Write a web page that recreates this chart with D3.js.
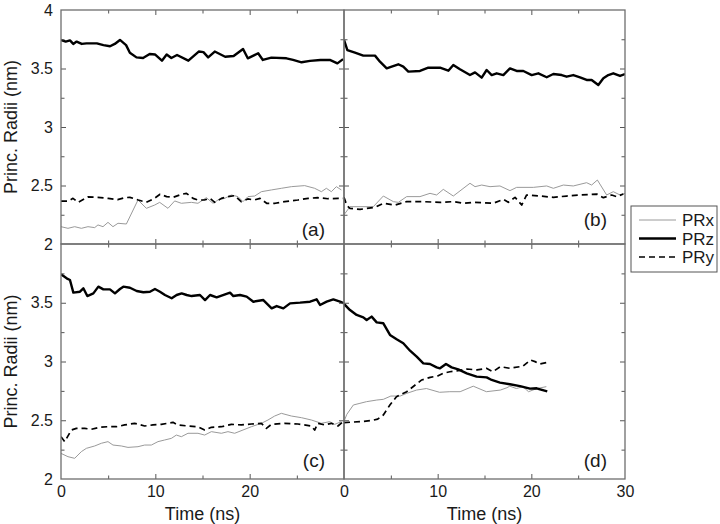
<!DOCTYPE html>
<html><head><meta charset="utf-8">
<script src="https://cdn.jsdelivr.net/npm/d3@7"></script>
<style>
body{margin:0;background:#fff;}
svg text{font-family:"Liberation Sans",Arial,sans-serif;fill:#1a1a1a;}
</style></head>
<body><svg id="c" width="720" height="524"></svg>
<script>
// ---- data: [time (ns), radius (nm)] ----
const aPRz=[[0,3.744],[0.5,3.73],[0.95,3.74],[1.3,3.71],[1.66,3.73],[2.2,3.71],[2.7,3.715],[3.8,3.715],[4.5,3.70],[5.2,3.69],[5.7,3.71],[6.25,3.744],[6.9,3.70],[7.3,3.635],[8.0,3.595],[8.7,3.59],[9.4,3.624],[9.96,3.62],[10.7,3.567],[11.2,3.62],[11.7,3.59],[12.3,3.615],[13.5,3.567],[14.6,3.645],[15.1,3.64],[15.6,3.595],[16.3,3.645],[17.4,3.60],[18.3,3.607],[19.3,3.667],[19.8,3.587],[20.9,3.63],[21.4,3.573],[22.3,3.593],[23.9,3.587],[24.6,3.573],[25.5,3.553],[26.4,3.565],[27.5,3.573],[28.5,3.573],[29.3,3.544],[29.9,3.58]];
const aPRx=[[0,2.148],[0.74,2.134],[1.45,2.148],[2.16,2.134],[2.86,2.148],[3.57,2.14],[3.92,2.163],[4.45,2.148],[4.98,2.185],[5.51,2.148],[6.04,2.177],[6.93,2.171],[8.16,2.376],[9.05,2.305],[9.93,2.333],[10.46,2.356],[11.34,2.305],[12.05,2.368],[12.76,2.348],[13.82,2.356],[14.52,2.348],[15.41,2.396],[16.11,2.348],[16.64,2.376],[17.35,2.39],[18.06,2.419],[18.76,2.405],[19.29,2.362],[19.82,2.405],[20.53,2.41],[21.24,2.447],[22.3,2.462],[23.36,2.476],[24.42,2.49],[25.83,2.499],[26.89,2.476],[27.6,2.447],[28.13,2.476],[28.66,2.447],[29.19,2.49],[29.72,2.462]];
const aPRy=[[0,2.367],[0.74,2.367],[1.27,2.39],[1.8,2.356],[2.86,2.402],[3.9,2.399],[5.0,2.39],[6.0,2.379],[6.75,2.396],[7.3,2.399],[8.2,2.376],[9.05,2.356],[9.9,2.39],[10.5,2.425],[11.2,2.405],[11.9,2.399],[12.8,2.425],[13.3,2.433],[14.0,2.39],[14.5,2.376],[15.2,2.376],[15.8,2.39],[16.3,2.356],[17.0,2.39],[17.7,2.405],[18.4,2.413],[19.1,2.362],[19.8,2.385],[20.5,2.376],[21.1,2.39],[21.8,2.348],[22.7,2.348],[23.7,2.362],[25.1,2.376],[26.2,2.39],[27.2,2.396],[28.3,2.387],[29.4,2.39],[29.9,2.39]];

const bPRz=[[0,3.744],[0.36,3.658],[1.17,3.635],[2.06,3.61],[3.31,3.61],[3.84,3.558],[4.56,3.501],[5.09,3.516],[5.8,3.536],[6.33,3.516],[6.87,3.473],[8.11,3.479],[9.0,3.507],[10.25,3.507],[11.14,3.481],[11.67,3.53],[12.38,3.493],[13.45,3.444],[13.99,3.467],[14.7,3.422],[15.23,3.487],[15.77,3.444],[16.3,3.459],[17.01,3.444],[17.72,3.501],[18.43,3.479],[19.15,3.479],[20.04,3.444],[20.75,3.459],[21.64,3.425],[22.35,3.453],[23.24,3.444],[23.77,3.43],[24.48,3.444],[25.2,3.425],[25.9,3.402],[26.44,3.402],[27.15,3.359],[27.69,3.416],[28.22,3.444],[28.75,3.459],[29.47,3.436],[30,3.453]];
const bPRx=[[0,2.25],[0.64,2.319],[1.71,2.319],[3.13,2.319],[4.2,2.41],[5.27,2.362],[5.8,2.356],[6.69,2.405],[8.11,2.405],[9.18,2.433],[9.89,2.419],[10.6,2.467],[11.67,2.41],[13.45,2.519],[13.99,2.49],[14.7,2.504],[15.59,2.49],[16.65,2.496],[17.72,2.456],[18.43,2.484],[20.21,2.484],[21.64,2.496],[22.35,2.476],[23.42,2.504],[24.48,2.496],[25.9,2.524],[26.44,2.504],[27.05,2.547],[28.04,2.419],[28.75,2.447],[29.47,2.419],[30,2.433]];
const bPRy=[[0,2.40],[0.3,2.33],[0.64,2.305],[1.71,2.296],[3.31,2.313],[4.2,2.348],[5.44,2.333],[6.69,2.362],[8.47,2.362],[10.25,2.356],[11.67,2.362],[12.74,2.348],[13.81,2.356],[14.88,2.353],[15.94,2.348],[17.01,2.382],[17.54,2.356],[18.26,2.399],[18.97,2.333],[19.5,2.419],[20.93,2.41],[22.35,2.399],[23.77,2.41],[25.2,2.419],[26.98,2.427],[27.69,2.396],[28.58,2.419],[29.11,2.405],[29.82,2.427]];

const cPRz=[[0,3.742],[0.6,3.708],[0.95,3.694],[1.31,3.586],[2.01,3.594],[2.37,3.623],[2.79,3.557],[3.43,3.58],[3.96,3.637],[4.49,3.614],[5.19,3.614],[5.72,3.58],[6.25,3.617],[6.61,3.637],[7.31,3.628],[8.02,3.6],[8.73,3.589],[9.43,3.594],[9.96,3.617],[10.49,3.594],[11.02,3.566],[11.73,3.538],[12.26,3.566],[12.79,3.58],[13.32,3.566],[13.85,3.557],[14.73,3.566],[15.27,3.523],[15.8,3.566],[16.5,3.546],[17.92,3.586],[18.27,3.557],[18.98,3.566],[19.68,3.552],[20.39,3.509],[21.45,3.523],[22.33,3.452],[22.86,3.472],[23.57,3.452],[24.28,3.495],[25.34,3.501],[26.4,3.509],[27.1,3.529],[27.46,3.481],[28.16,3.509],[28.87,3.529],[29.58,3.509],[30,3.495]];
const cPRx=[[0,2.218],[0.74,2.19],[1.45,2.176],[2.16,2.233],[2.69,2.261],[3.57,2.281],[4.28,2.304],[4.98,2.318],[5.51,2.289],[6.4,2.281],[7.1,2.269],[8.16,2.275],[8.87,2.289],[9.58,2.289],[10.28,2.318],[10.99,2.332],[11.7,2.346],[12.23,2.374],[12.76,2.36],[13.46,2.389],[14.52,2.389],[15.23,2.374],[15.94,2.403],[17.0,2.389],[17.7,2.403],[18.41,2.389],[19.29,2.417],[20.18,2.445],[21.24,2.474],[21.94,2.502],[22.65,2.536],[23.36,2.559],[24.42,2.536],[25.48,2.522],[26.54,2.502],[27.6,2.474],[28.48,2.488],[29.01,2.465],[29.72,2.488]];
const cPRy=[[0,2.36],[0.39,2.318],[1.1,2.417],[1.63,2.431],[2.51,2.431],[3.22,2.423],[4.1,2.44],[4.98,2.445],[5.87,2.445],[6.75,2.46],[7.81,2.474],[8.87,2.451],[9.75,2.46],[10.64,2.465],[11.87,2.482],[12.4,2.46],[13.46,2.451],[14.52,2.445],[15.23,2.417],[15.94,2.44],[17.0,2.445],[18.06,2.465],[19.12,2.46],[20.18,2.468],[21.24,2.474],[21.77,2.431],[22.3,2.465],[23.71,2.474],[25.12,2.468],[26.54,2.451],[26.89,2.417],[27.24,2.474],[27.95,2.46],[28.66,2.474],[29.36,2.451],[29.89,2.488]];

const dPRz=[[0,3.49],[0.64,3.438],[1.35,3.396],[2.06,3.376],[2.42,3.353],[2.95,3.382],[3.49,3.333],[4.2,3.325],[4.91,3.226],[5.62,3.189],[6.33,3.155],[7.05,3.092],[7.76,3.041],[8.47,2.984],[9.18,2.979],[9.89,2.95],[10.25,2.942],[10.89,2.979],[11.49,2.95],[12.2,2.933],[13.1,2.899],[14.16,2.871],[15.23,2.865],[15.77,2.843],[16.65,2.82],[17.72,2.806],[18.79,2.791],[19.86,2.769],[20.57,2.772],[20.93,2.763],[21.7,2.745]];
const dPRx=[[0,2.49],[0.3,2.55],[1.0,2.63],[1.7,2.644],[2.4,2.658],[3.5,2.672],[4.2,2.678],[5.0,2.706],[6.0,2.706],[6.7,2.729],[7.75,2.757],[8.8,2.77],[10.2,2.738],[11.3,2.743],[12.4,2.743],[13.8,2.79],[15.2,2.743],[16.7,2.757],[17.4,2.777],[17.7,2.79],[18.4,2.77],[19.1,2.786],[19.7,2.743],[20.6,2.77],[21.6,2.786]];
const dPRy=[[0,2.48],[1.0,2.485],[2.0,2.49],[3.1,2.5],[3.6,2.51],[4.2,2.545],[4.9,2.63],[5.6,2.7],[6.7,2.743],[7.6,2.8],[8.3,2.843],[9.2,2.865],[10.0,2.877],[10.6,2.9],[11.3,2.913],[12.0,2.919],[13.1,2.936],[14.2,2.928],[15.2,2.942],[15.9,2.913],[16.7,2.956],[17.7,2.942],[19.1,2.96],[19.9,3.013],[20.4,2.999],[20.9,2.979],[21.6,2.99]];

const panelNames=["(a)","(b)","(c)","(d)"];
const seriesNames=["PRx","PRz","PRy"];
const xDomain=[0,30], yDomain=[2,4];
const xTicksLeft=[0,10,20], xTicksRight=[0,10,20,30];
const xMajor=[10,20], xMinor=[5,15,25];
const yTicksTop=[4,3.5,3,2.5,2], yTicksBottom=[3.5,3,2.5,2];
const yMajor=[2.5,3,3.5], yMinor=[2.25,2.75,3.25,3.75];
const yLabel="Princ. Radii (nm)", xLabel="Time (ns)";

// ---- layout ----
const svg=d3.select("#c");
const cols=[[61,344],[344,625]], rows=[[10,244],[244,479]];
const styles={PRx:{stroke:"#9a9a9a",w:1,dash:null},PRz:{stroke:"#000",w:2.4,dash:null},PRy:{stroke:"#000",w:1.7,dash:"6,4"}};
const panels=[
 {name:panelNames[0],c:0,r:0,data:{PRx:aPRx,PRz:aPRz,PRy:aPRy},lab:[325,236]},
 {name:panelNames[1],c:1,r:0,data:{PRx:bPRx,PRz:bPRz,PRy:bPRy},lab:[607,226]},
 {name:panelNames[2],c:0,r:1,data:{PRx:cPRx,PRz:cPRz,PRy:cPRy},lab:[325,467]},
 {name:panelNames[3],c:1,r:1,data:{PRx:dPRx,PRz:dPRz,PRy:dPRy},lab:[607,467]}
];
const defs=svg.append("defs");
panels.forEach((p,i)=>{
  const x=d3.scaleLinear(xDomain,cols[p.c]);
  const y=d3.scaleLinear(yDomain,[rows[p.r][1],rows[p.r][0]]);
  const g=svg.append("g");
  defs.append("clipPath").attr("id","cp"+i).append("rect")
    .attr("x",cols[p.c][0]).attr("y",rows[p.r][0])
    .attr("width",cols[p.c][1]-cols[p.c][0]).attr("height",rows[p.r][1]-rows[p.r][0]);
  const line=d3.line().x(d=>x(d[0])).y(d=>y(d[1]));
  const lg=g.append("g").attr("clip-path","url(#cp"+i+")");
  ["PRx","PRy","PRz"].forEach(s=>{
    const st=styles[s];
    lg.append("path").datum(p.data[s]).attr("d",line).attr("fill","none")
      .attr("stroke",st.stroke).attr("stroke-width",st.w)
      .attr("stroke-dasharray",st.dash).attr("stroke-linejoin","round");
  });
  // ticks (inward, all sides)
  const X0=cols[p.c][0],X1=cols[p.c][1],Y0=rows[p.r][0],Y1=rows[p.r][1];
  const mk=(axis,tr)=>{const a=g.append("g").attr("transform",tr).call(axis);
    a.select(".domain").remove(); a.selectAll("line").attr("stroke","#555").attr("stroke-width",1);
    a.selectAll("text").attr("font-size",16).attr("fill","#1a1a1a").attr("font-family","'Liberation Sans',Arial,sans-serif"); return a;};
  [[xMajor,5],[xMinor,3.5]].forEach(([tv,sz])=>{
    mk(d3.axisBottom(x).tickValues(tv).tickSize(-sz).tickFormat(""),`translate(0,${Y1})`);
    mk(d3.axisTop(x).tickValues(tv).tickSize(-sz).tickFormat(""),`translate(0,${Y0})`);
  });
  [[yMajor,5],[yMinor,3.5]].forEach(([tv,sz])=>{
    mk(d3.axisLeft(y).tickValues(tv).tickSize(-sz).tickFormat(""),`translate(${X0},0)`);
    mk(d3.axisRight(y).tickValues(tv).tickSize(-sz).tickFormat(""),`translate(${X1},0)`);
  });
  if(p.c===0){
    const a=mk(d3.axisLeft(y).tickValues(p.r===0?yTicksTop:yTicksBottom).tickSize(0).tickPadding(8).tickFormat(d3.format("")),`translate(${X0},0)`);
  }
  if(p.r===1){
    mk(d3.axisBottom(x).tickValues(p.c===0?xTicksLeft:xTicksRight).tickSize(0).tickPadding(7).tickFormat(d3.format("")),`translate(0,${Y1})`);
  }
  g.append("rect").attr("x",X0).attr("y",Y0).attr("width",X1-X0).attr("height",Y1-Y0)
    .attr("fill","none").attr("stroke","#6e6e6e").attr("stroke-width",1.3);
  g.append("text").attr("x",p.lab[0]).attr("y",p.lab[1]).attr("text-anchor","end")
    .attr("font-size",19).text(p.name);
});
// axis titles
[0,1].forEach(r=>{
  const cy=(rows[r][0]+rows[r][1])/2;
  svg.append("text").attr("transform",`translate(17,${cy}) rotate(-90)`).attr("text-anchor","middle")
    .attr("font-size",18).text(yLabel);
});
[0,1].forEach(c=>{
  svg.append("text").attr("x",(cols[c][0]+cols[c][1])/2).attr("y",520).attr("text-anchor","middle")
    .attr("font-size",18).text(xLabel);
});
// legend
const leg=svg.append("g");
leg.append("rect").attr("x",631).attr("y",206).attr("width",86).attr("height",66)
  .attr("fill","#fff").attr("stroke","#555").attr("stroke-width",1);
const ly=d3.scalePoint().domain(seriesNames).range([220,257]);
seriesNames.forEach(s=>{
  const st=styles[s];
  leg.append("line").attr("x1",639).attr("x2",676).attr("y1",ly(s)).attr("y2",ly(s))
    .attr("stroke",st.stroke).attr("stroke-width",st.w).attr("stroke-dasharray",st.dash);
  leg.append("text").attr("x",682).attr("y",ly(s)).attr("dy","0.36em").attr("font-size",17).text(s);
});
</script></body></html>
